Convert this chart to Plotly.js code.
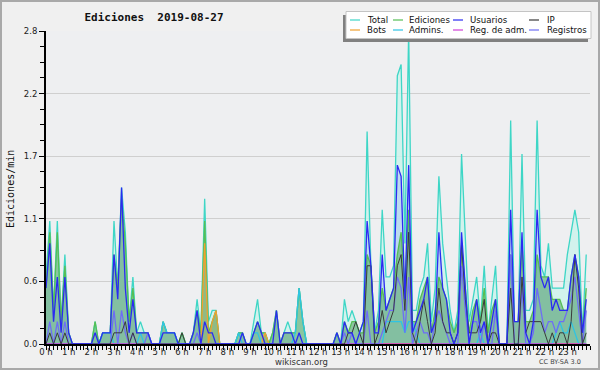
<!DOCTYPE html>
<html><head><meta charset="utf-8">
<script src="https://cdn.plot.ly/plotly-3.0.1.min.js"></script>
<style>html,body{margin:0;padding:0;background:#f0f0f0}#chart{width:600px;height:370px}</style>
</head><body><div id="chart"></div>
<script>
// ---- data (edits per minute, one value per 10-minute bin, 0:00 .. 23:50) ----
const hourLabels = ["0 h","1 h","2 h","3 h","4 h","5 h","6 h","7 h","8 h","9 h","10 h","11 h","12 h","13 h","14 h","15 h","16 h","17 h","18 h","19 h","20 h","21 h","22 h","23 h"];

const total = [
 0.6,1.1,0.3,1.1,0.2,0.8,  0.1,0,0,0,0,0,  0,0.2,0,0.1,0.1,0.1,  1.1,0.5,1.4,1.0,0.2,0.6,
 0.1,0.2,0.1,0.1,0,0,  0,0.2,0.1,0.1,0.1,0,  0.1,0,0,0.1,0.4,0.1,  1.3,0.2,0.3,0.3,0,0,
 0,0,0,0.1,0.1,0,  0,0.2,0.4,0.1,0.1,0,  0.1,0.3,0,0.1,0.2,0.1,  0.1,0.5,0.2,0,0,0,
 0,0,0,0,0,0.1,  0,0.4,0.2,0.3,0.2,0.1,  0.2,1.9,0.7,0.1,0.3,1.2,  0.6,0.6,0.7,2.4,2.5,0.9,
 2.8,0.3,0.3,0.5,0.6,0.9,  0.2,0.5,1.5,0.9,0.6,0.3,  0.1,0.3,1.7,0.9,0.2,0.4,  0.6,0.2,0.7,0.1,0.4,0.7,
 0,0,0,2.0,0.2,0.2,  1.7,0.3,0.3,0.4,2.0,0.7,  0.6,0.9,0.5,0.5,0.5,0.5,  0.8,1.0,1.2,1.0,0.1,0.8
];
const ediciones = [
 0.5,1.0,0.3,1.0,0.2,0.7,  0.1,0,0,0,0,0,  0,0.2,0,0.1,0.1,0.1,  0.8,0.5,1.3,0.9,0.2,0.5,
 0.1,0.1,0.1,0.1,0,0,  0,0.2,0.1,0.1,0.1,0,  0.1,0,0,0.1,0.3,0.1,  1.1,0.1,0.2,0.3,0,0,
 0,0,0,0.1,0.1,0,  0,0.1,0.2,0.1,0.1,0,  0.1,0.3,0,0.1,0.1,0.1,  0.1,0.5,0.2,0,0,0,
 0,0,0,0,0,0.1,  0,0.2,0.1,0.2,0.2,0.1,  0.1,0.8,0.7,0.1,0.2,0.5,  0.3,0.4,0.5,0.8,1.0,0.5,
 1.2,0.2,0.2,0.4,0.5,0.6,  0.1,0.3,0.6,0.5,0.4,0.2,  0.1,0.2,0.9,0.5,0.1,0.3,  0.4,0.2,0.5,0.1,0.3,0.4,
 0,0,0,0.8,0.2,0.2,  0.9,0.2,0.2,0.3,0.8,0.6,  0.6,0.6,0.4,0.4,0.4,0.3,  0.3,0.6,0.8,0.6,0.1,0.5
];
const usuarios = [
 0.5,0.9,0.2,0.6,0.1,0.6,  0.1,0,0,0,0,0,  0,0.1,0,0.1,0.1,0.1,  0.8,0.4,1.4,0.5,0.1,0.4,
 0.1,0.1,0.1,0.1,0,0,  0,0.1,0.1,0.1,0.1,0,  0,0,0,0.1,0.3,0,  0.2,0.1,0.1,0,0,0,
 0,0,0,0,0.1,0,  0,0.1,0.2,0.1,0,0,  0,0.3,0,0.1,0.1,0.1,  0,0.1,0,0,0,0,
 0,0,0,0,0,0.1,  0,0.2,0.1,0.1,0,0.1,  0.2,1.1,0.7,0.1,0.1,0.8,  0.3,0.4,0.5,1.6,1.5,0.4,
 1.6,0.1,0.2,0.3,0.4,0.6,  0.1,0.2,1.0,0.5,0.4,0.1,  0,0.1,1.0,0.5,0,0.2,  0.4,0.1,0.2,0,0.2,0.4,
 0,0,0,1.2,0.2,0.2,  1.0,0.1,0,0.2,1.2,0.6,  0.5,0.6,0.3,0.4,0.3,0.3,  0.3,0.6,0.8,0.6,0.1,0.4
];
const ip = [
 0,0.1,0,0.1,0,0.1,  0,0,0,0,0,0,  0,0,0,0,0,0,  0.1,0.1,0.1,0.2,0,0.1,
 0,0,0,0,0,0,  0,0,0,0,0,0,  0.1,0,0,0,0,0,  0,0,0,0,0,0,
 0,0,0,0,0,0,  0,0,0,0,0,0,  0,0,0,0,0,0,  0,0,0,0,0,0,
 0,0,0,0,0,0,  0,0,0.1,0.1,0.2,0.1,  0,0.7,0.7,0,0.1,0.3,  0.1,0.2,0.3,0.7,0.8,0.3,
 1.0,0.1,0,0.2,0.4,0.2,  0,0.1,0.5,0.2,0.1,0.1,  0,0.1,0.9,0.4,0.1,0.1,  0.1,0.2,0.4,0,0.1,0.1,
 0,0,0,0.5,0,0,  0.6,0.1,0.2,0.2,0.2,0.2,  0.1,0,0.1,0,0.1,0.1,  0,0.2,0.8,0.5,0,0.1
];
const bots = [
 0,0,0,0,0,0,  0,0,0,0,0,0,  0,0,0,0,0,0,  0,0,0,0,0,0,
 0,0,0,0,0,0,  0,0,0,0,0,0,  0,0,0,0,0,0,  0.9,0,0.2,0.3,0,0,
 0,0,0,0,0,0,  0,0,0,0,0.1,0,  0,0,0,0,0,0,  0,0,0,0,0,0,
 0,0,0,0,0,0,  0,0,0,0,0,0,  0,0,0,0,0,0,  0,0,0,0,0,0,
 0,0,0,0,0,0,  0,0,0,0,0,0,  0,0,0,0,0,0,  0,0,0,0,0,0,
 0,0,0,0,0,0,  0,0,0,0,0,0,  0,0,0,0,0,0,  0,0,0,0,0,0
];
const admins = [
 0,0,0,0,0,0,  0,0,0,0,0,0,  0,0,0,0.1,0.1,0.1,  0,0,0,0,0,0,
 0,0.1,0,0,0,0,  0,0.2,0.1,0.1,0.1,0,  0,0,0,0,0,0,  0,0,0,0,0,0,
 0,0,0,0.1,0,0,  0,0.1,0.1,0,0,0,  0,0,0,0,0,0,  0.1,0.5,0.2,0,0,0,
 0,0,0,0,0,0,  0,0,0,0,0,0,  0,0,0,0,0,0,  0.2,0.2,0.2,0.2,0.2,0.1,
 0.2,0.2,0.1,0,0,0,  0,0,0,0,0,0,  0,0,0,0,0,0,  0,0.1,0,0,0,0,
 0,0,0,0,0,0,  0,0,0,0,0,0,  0,0,0,0.1,0.2,0.1,  0.1,0.2,0.1,0,0,0
];
const regAdm = [
 0,0,0,0,0,0,  0,0,0,0,0,0,  0,0,0,0,0,0,  0,0,0,0,0,0,
 0,0,0,0,0,0,  0,0,0,0,0,0,  0,0,0,0,0,0,  0,0,0,0,0,0,
 0,0,0,0,0,0,  0,0,0,0,0,0,  0,0,0,0,0,0,  0,0,0,0,0,0,
 0,0,0,0,0,0,  0,0,0,0,0,0,  0,0,0,0,0,0,  0,0,0,0,0,0,
 0,0,0,0,0,0,  0,0,0,0,0,0,  0,0,0,0,0,0,  0,0,0,0,0,0,
 0,0,0,0,0,0,  0,0,0,0,0,0,  0,0,0,0,0,0,  0,0,0,0,0,0
];
const registros = [
 0,0.2,0,0.2,0,0.2,  0,0,0,0,0,0,  0,0,0,0,0,0,  0.3,0,0.3,0.1,0,0.1,
 0,0,0,0.1,0,0,  0,0,0,0,0,0,  0,0,0,0,0.1,0,  0,0,0,0,0,0,
 0,0,0,0,0,0,  0,0,0,0,0,0,  0,0,0,0,0,0,  0,0,0,0,0,0,
 0,0,0,0,0,0,  0,0.1,0,0.1,0,0,  0,0.3,0,0,0,0.1,  0.2,0.3,0.3,0.6,0.5,0.1,
 0.6,0,0.1,0.2,0.1,0.1,  0,0.2,0.3,0.2,0.1,0,  0,0,0.7,0.3,0,0.2,  0.2,0,0.2,0,0,0.3,
 0,0,0,0.8,0,0,  0.5,0,0,0.1,0.5,0.3,  0.1,0.2,0.2,0.1,0.2,0.2,  0.3,0.4,0.6,0.3,0,0.3
];

const seriesNames  = ["Total","Ediciones","Usuarios","IP","Bots","Admins.","Reg. de adm.","Registros"];
const seriesData   = [total, ediciones, usuarios, ip, bots, admins, regAdm, registros];
const seriesColors = ["#3ed6c6","#55bf55","#2a2af2","#3a3a3a","#f0a030","#2ec4e4","#d040d8","#6e6ef4"];

// ---- build ----
const times = total.map((_, i) => i / 6);
const fills = [
  {d: total,     c: "rgba(205,242,236,0.85)"},
  {d: usuarios,  c: "rgba(170,200,240,0.55)"},
  {d: bots,      c: "rgba(236,170,70,0.55)"},
  {d: ediciones, c: "rgba(110,180,130,0.72)"}
];
const traces = [];
fills.forEach(f => traces.push({x: times, y: f.d, type: "scatter", mode: "none", fill: "tozeroy",
  fillcolor: f.c, showlegend: false, hoverinfo: "skip"}));
const lineOrder = [0, 1, 4, 5, 6, 7, 3, 2];
lineOrder.forEach(k => traces.push({x: times, y: seriesData[k], type: "scatter", mode: "lines",
  name: seriesNames[k], line: {color: seriesColors[k], width: k === 3 ? 1 : 1.3}, showlegend: false}));

// geometry helpers (pixels -> paper)
const L = 46, R = 590, T = 31, B = 344;
const px = v => (v - L) / (R - L);
const py = v => (B - v) / (B - T);

const shapes = [
  {type: "rect", xref: "paper", yref: "paper", x0: px(1), x1: px(599), y0: py(369), y1: py(1),
   line: {color: "#a9a9a9", width: 2}, fillcolor: "rgba(0,0,0,0)", layer: "above"},
  {type: "rect", xref: "paper", yref: "paper", x0: px(343), x1: px(588), y0: py(42), y1: py(15),
   line: {width: 0}, fillcolor: "#808080", layer: "above"},
  {type: "rect", xref: "paper", yref: "paper", x0: px(346), x1: px(591), y0: py(38.5), y1: py(11.5),
   line: {color: "#c4c4c4", width: 1}, fillcolor: "#ffffff", layer: "above"}
];
const annotations = [
  {text: "wikiscan.org", xref: "paper", yref: "paper", x: px(301), y: py(362), showarrow: false,
   font: {family: "DejaVu Sans", size: 8.5, color: "#333"}, xanchor: "center", yanchor: "middle"},
  {text: "CC BY-SA 3.0", xref: "paper", yref: "paper", x: px(560), y: py(362), showarrow: false,
   font: {family: "DejaVu Sans", size: 6.5, color: "#444"}, xanchor: "center", yanchor: "middle"},
  {text: "Ediciones/min", xref: "paper", yref: "paper", x: px(10), y: py(189), showarrow: false, textangle: -90,
   font: {family: "DejaVu Sans Mono", size: 10, color: "#111"}, xanchor: "center", yanchor: "middle"}
];
const colLine = [350, 393, 453, 529], colText = [365, 407, 468, 545], rowY = [20, 30];
seriesNames.forEach((n, k) => {
  const c = k % 4, r = Math.floor(k / 4);
  shapes.push({type: "line", xref: "paper", yref: "paper", x0: px(colLine[c]), x1: px(colLine[c] + 10),
    y0: py(rowY[r]), y1: py(rowY[r]), line: {color: seriesColors[k], width: 1.2}, layer: "above"});
  annotations.push({text: n, xref: "paper", yref: "paper", x: px(colText[c]), y: py(rowY[r]), showarrow: false,
    xanchor: "left", yanchor: "middle", font: {family: "DejaVu Sans", size: 8.6, color: "#111"}});
});

const layout = {
  width: 600, height: 370,
  margin: {l: L, r: 600 - R, t: T, b: 370 - B},
  paper_bgcolor: "#f0f0f0", plot_bgcolor: "#eeeff1",
  showlegend: false,
  title: {text: "<b>Ediciones\u00a0 2019-08-27</b>", xref: "container", yref: "container",
    x: 154 / 600, xanchor: "center", y: 1 - 17 / 370, yanchor: "middle",
    font: {family: "DejaVu Sans Mono", size: 11, color: "#111"}},
  xaxis: {range: [0, 24], tickmode: "array", tickvals: hourLabels.map((_, i) => i), ticktext: hourLabels,
    ticks: "outside", ticklen: 4, tickcolor: "#000", tickwidth: 1, showgrid: false, zeroline: false,
    showline: true, linecolor: "#000", linewidth: 2, layer: "above traces", ticklabelstandoff: -5,
    tickfont: {family: "DejaVu Sans", size: 8.5, color: "#222"},
    minor: {dtick: 1 / 6, ticks: "outside", ticklen: 4, tickcolor: "#000", showgrid: false}},
  yaxis: {range: [0, 2.8], tickmode: "array", tickvals: [0, 0.56, 1.12, 1.68, 2.24, 2.8],
    ticktext: ["0.0", "0.6", "1.1", "1.7", "2.2", "2.8"],
    ticks: "outside", ticklen: 5, tickcolor: "#000", showgrid: true, gridcolor: "#cfcfcf", gridwidth: 1,
    zeroline: false, showline: true, linecolor: "#000", linewidth: 2, layer: "above traces",
    tickfont: {family: "DejaVu Sans", size: 8.5, color: "#222"},
    minor: {dtick: 0.14, ticks: "outside", ticklen: 4, tickcolor: "#000", showgrid: false}},
  shapes: shapes, annotations: annotations
};
Plotly.newPlot("chart", traces, layout, {staticPlot: true, displayModeBar: false});
</script></body></html>
